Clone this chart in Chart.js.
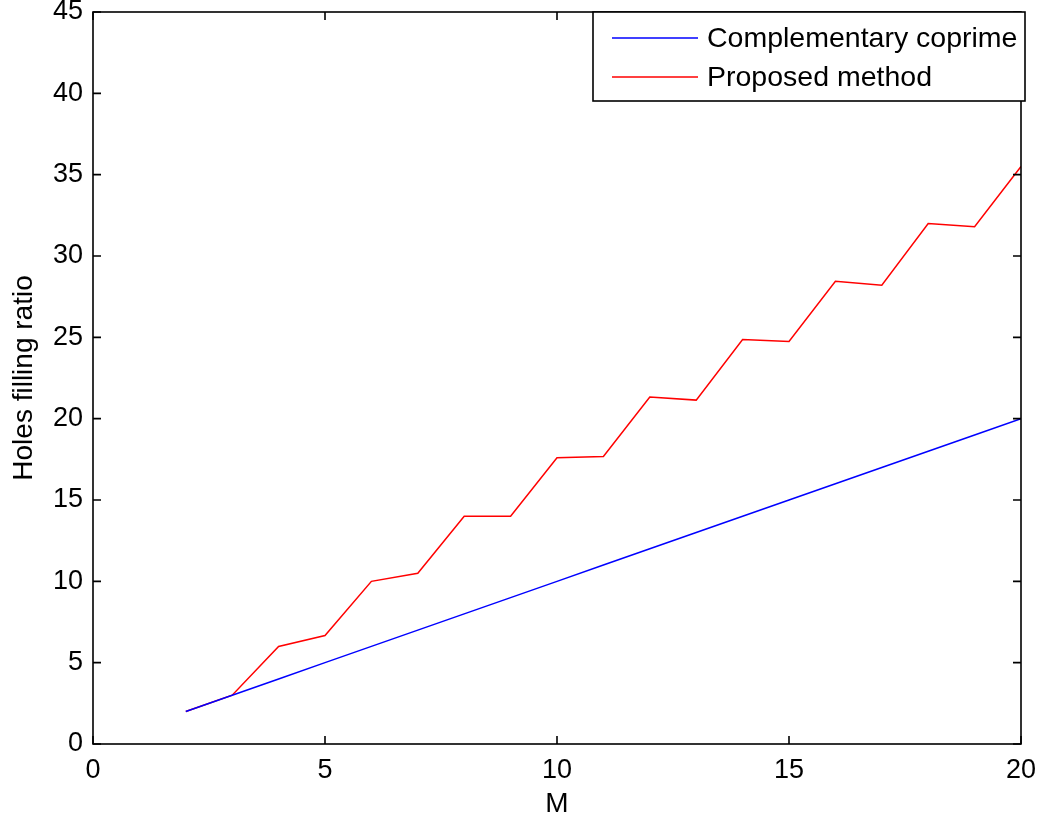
<!DOCTYPE html>
<html>
<head>
<meta charset="utf-8">
<script src="https://cdn.jsdelivr.net/npm/chart.js@4.4.1/dist/chart.umd.min.js"></script>
<style>
	body { margin: 0; background: #fff; }
</style>
</head>
<body>
<canvas id="chart" width="1043" height="820"></canvas>
<script>
// values
const M = [2, 3, 4, 5, 6, 7, 8, 9, 10, 11, 12, 13, 14, 15, 16, 17, 18, 19, 20];
const complementary = [2, 3, 4, 5, 6, 7, 8, 9, 10, 11, 12, 13, 14, 15, 16, 17, 18, 19, 20];
const proposed = [2, 3, 6, 6.67, 10, 10.5, 14, 14, 17.6, 17.67, 21.33, 21.14, 24.86, 24.75, 28.45, 28.2, 32, 31.8, 35.5];
const seriesLabels = ['Complementary coprime', 'Proposed method'];
const seriesColors = ['#0000ff', '#ff0000'];
const xLabel = 'M';
const yLabel = 'Holes filling ratio';

const FONT = '"Liberation Sans", Arial, Helvetica, sans-serif';
Chart.defaults.font.family = FONT;
Chart.defaults.color = '#000';

// matlab style box, inward ticks and legend
const framePlugin = {
	id: 'frame',
	afterDatasetsDraw(chart) {
		const {ctx, chartArea: a, scales: {x, y}} = chart,
			len = 8;
		ctx.save();
		ctx.strokeStyle = '#000';
		ctx.lineWidth = 1.6;
		ctx.strokeRect(a.left, a.top, a.right - a.left, a.bottom - a.top);
		ctx.beginPath();
		x.ticks.forEach((t) => {
			const px = x.getPixelForValue(t.value);
			ctx.moveTo(px, a.bottom); ctx.lineTo(px, a.bottom - len);
			ctx.moveTo(px, a.top); ctx.lineTo(px, a.top + len);
		});
		y.ticks.forEach((t) => {
			const py = y.getPixelForValue(t.value);
			ctx.moveTo(a.left, py); ctx.lineTo(a.left + len, py);
			ctx.moveTo(a.right, py); ctx.lineTo(a.right - len, py);
		});
		ctx.stroke();

		// legend box
		const bx = 593, by = a.top, bw = a.right + 4 - 593, bh = 89;
		ctx.fillStyle = '#fff';
		ctx.fillRect(bx, by, bw, bh);
		ctx.strokeRect(bx, by, bw, bh);
		ctx.font = '28.5px ' + FONT;
		ctx.textBaseline = 'middle';
		ctx.textAlign = 'left';
		chart.data.datasets.forEach((ds, i) => {
			const ly = by + 26 + i * 39;
			ctx.strokeStyle = ds.borderColor;
			ctx.lineWidth = 1.5;
			ctx.beginPath();
			ctx.moveTo(bx + 19, ly);
			ctx.lineTo(bx + 105, ly);
			ctx.stroke();
			ctx.fillStyle = '#000';
			ctx.fillText(ds.label, bx + 114, ly + 1);
		});
		ctx.restore();
	}
};

new Chart(document.getElementById('chart'), {
	type: 'line',
	data: {
		datasets: [
			{
				label: seriesLabels[0],
				data: M.map((m, i) => ({x: m, y: complementary[i]})),
				borderColor: seriesColors[0],
				borderWidth: 1.5,
				pointRadius: 0,
				tension: 0
			},
			{
				label: seriesLabels[1],
				data: M.map((m, i) => ({x: m, y: proposed[i]})),
				borderColor: seriesColors[1],
				borderWidth: 1.5,
				pointRadius: 0,
				tension: 0
			}
		]
	},
	options: {
		responsive: false,
		animation: false,
		layout: {padding: {left: 0, right: 22, top: 12, bottom: 0}},
		plugins: {
			legend: {display: false},
			tooltip: {enabled: false}
		},
		scales: {
			x: {
				type: 'linear',
				min: 0,
				max: 20,
				afterFit: (s) => { s.height = 76; s.paddingLeft = 0; s.paddingRight = 0; },
				grid: {drawOnChartArea: false, drawTicks: false},
				border: {display: false},
				ticks: {stepSize: 5, padding: 14, font: {size: 27, lineHeight: 0.9}},
				title: {display: true, text: xLabel, font: {size: 28}, padding: {top: 0, bottom: -1}}
			},
			y: {
				min: 0,
				max: 45,
				afterFit: (s) => { s.width = 93; s.paddingTop = 0; s.paddingBottom = 0; },
				grid: {drawOnChartArea: false, drawTicks: false},
				border: {display: false},
				ticks: {stepSize: 5, padding: 10, font: {size: 27, lineHeight: 0.9}},
				title: {display: true, text: yLabel, font: {size: 28}, padding: {top: 7, bottom: 0}}
			}
		}
	},
	plugins: [framePlugin]
});
</script>
</body>
</html>
